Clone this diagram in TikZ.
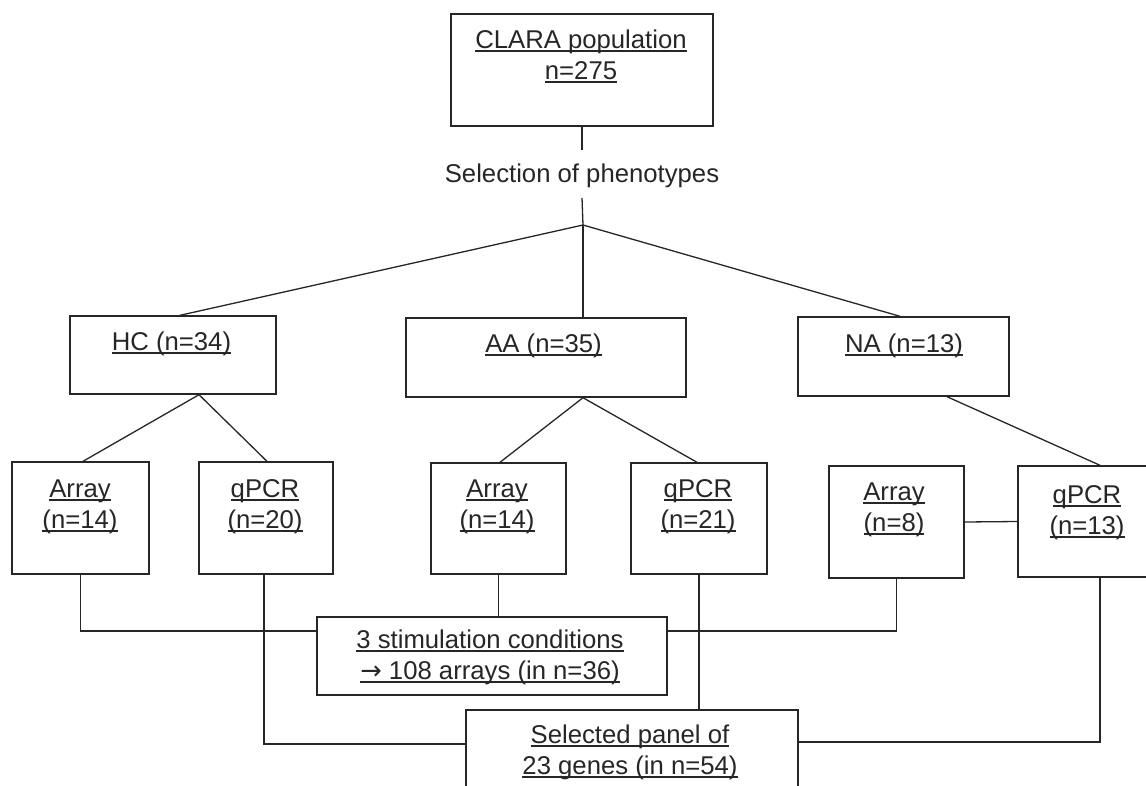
\documentclass[tikz,border=0pt]{standalone}
\usepackage{fontspec}
\setmainfont{Liberation Sans}
\newfontfamily\arrowfont{DejaVu Sans}
\newsavebox\myulbox
\newcommand\myul[1]{\leavevmode\sbox\myulbox{#1}\rlap{\rule[-3.5pt]{\wd\myulbox}{1.3pt}}\usebox\myulbox}
\definecolor{lc}{HTML}{262626}
\begin{document}
\begin{tikzpicture}[x=1pt,y=-1pt,
  box/.style={draw=lc, line width=1.4pt, inner sep=0pt, rectangle},
  conn/.style={draw=lc, line width=1.3pt},
  txt/.style={anchor=north, inner sep=0pt, align=center, text=lc, font=\fontsize{25.7}{31}\selectfont},
  plain/.style={inner xsep=0pt, inner ysep=10pt, anchor=base, text=lc, font=\fontsize{25.7}{31}\selectfont}]
\useasboundingbox (0,0) rectangle (1146,785);
\clip (0,0) rectangle (1146,785);
% boxes
\node[box, minimum width=262pt, minimum height=112pt] (clara) at (582,70) {};
\node[box, minimum width=206pt, minimum height=78pt] (hc) at (173,355) {};
\node[box, minimum width=280pt, minimum height=79pt] (aa) at (546,357.5) {};
\node[box, minimum width=211pt, minimum height=79pt] (na) at (903.5,356.5) {};
\node[box, minimum width=137pt, minimum height=112pt] (arr1) at (80.5,518) {};
\node[box, minimum width=134pt, minimum height=112pt] (qpa) at (266,518) {};
\node[box, minimum width=135pt, minimum height=111pt] (arr2) at (498.5,518.5) {};
\node[box, minimum width=136pt, minimum height=111pt] (qpb) at (699,518.5) {};
\node[box, minimum width=135pt, minimum height=112pt] (arr3) at (896.5,522) {};
\node[box, minimum width=142pt, minimum height=111pt] (qpc) at (1089,521.5) {};
\node[box, minimum width=350pt, minimum height=78pt] (stim) at (492,656) {};
\node[box, minimum width=332pt, minimum height=90pt] (sel) at (632,755) {};
% texts
\node[txt] (tclara) at (581,26.3) {\myul{CLARA population}\strut\\\myul{n=275}\strut};
\node[plain] (phen) at (582,182) {Selection of phenotypes\strut};
\node[txt] (thc) at (171.5,328.3) {\myul{HC (n=34)}\strut};
\node[txt] (taa) at (543.5,330.3) {\myul{AA (n=35)}\strut};
\node[txt] (tna) at (904,330.3) {\myul{NA (n=13)}\strut};
\node[txt] (tarr1) at (80,475.3) {\myul{Array}\strut\\\myul{(n=14)}\strut};
\node[txt] (tqpa) at (265,475.3) {\myul{qPCR}\strut\\\myul{(n=20)}\strut};
\node[txt] (tarr2) at (497,475.3) {\myul{Array}\strut\\\myul{(n=14)}\strut};
\node[txt] (tqpb) at (698,475.3) {\myul{qPCR}\strut\\\myul{(n=21)}\strut};
\node[txt] (tarr3) at (894,478.3) {\myul{Array}\strut\\\myul{(n=8)}\strut};
\node[txt] (tqpc) at (1087,481.3) {\myul{qPCR}\strut\\\myul{(n=13)}\strut};
\node[txt] (tstim) at (490,626.3) {\myul{3 stimulation conditions}\strut\\\myul{{\arrowfont\char"2192} 108 arrays (in n=36)}\strut};
\node[txt] (tsel) at (630,721.3) {\myul{Selected panel of}\strut\\\myul{23 genes (in n=54)}\strut};
% connectors
\coordinate (apex) at (583,225);
\draw[conn] (clara.south) -- (clara.south |- phen.north);
\draw[conn] ([yshift=3.5pt]clara.south |- phen.south) -- (apex);
\draw[conn] (apex) -- ([xshift=7pt]hc.north);
\draw[conn] (apex) -- (apex |- aa.north);
\draw[conn] (apex) -- ([xshift=-3.5pt]na.north);
\draw[conn] ([xshift=26pt]hc.south) -- ([xshift=2.5pt]arr1.north);
\draw[conn] ([xshift=26pt]hc.south) -- ([xshift=1pt]qpa.north);
\draw[conn] ([xshift=37pt]aa.south) -- ([xshift=1.5pt]arr2.north);
\draw[conn] ([xshift=37pt]aa.south) -- ([xshift=-2pt]qpb.north);
\draw[conn] ([xshift=43.5pt]na.south) -- ([xshift=11pt]qpc.north);
\draw[conn] (arr1.south) |- ([yshift=25pt]stim.west);
\draw[conn] (arr3.south) |- ([yshift=25pt]stim.east);
\draw[conn] (arr2.south) -- (arr2.south |- stim.north);
\draw[conn] ([xshift=-2pt]qpa.south) |- ([yshift=11pt]sel.west);
\draw[conn] (qpb.south) -- (qpb.south |- sel.north);
\draw[conn] ([xshift=11pt]qpc.south) |- ([yshift=13pt]sel.east);
\draw[conn] (arr3.east) -- (qpc.west);
\end{tikzpicture}
\end{document}
